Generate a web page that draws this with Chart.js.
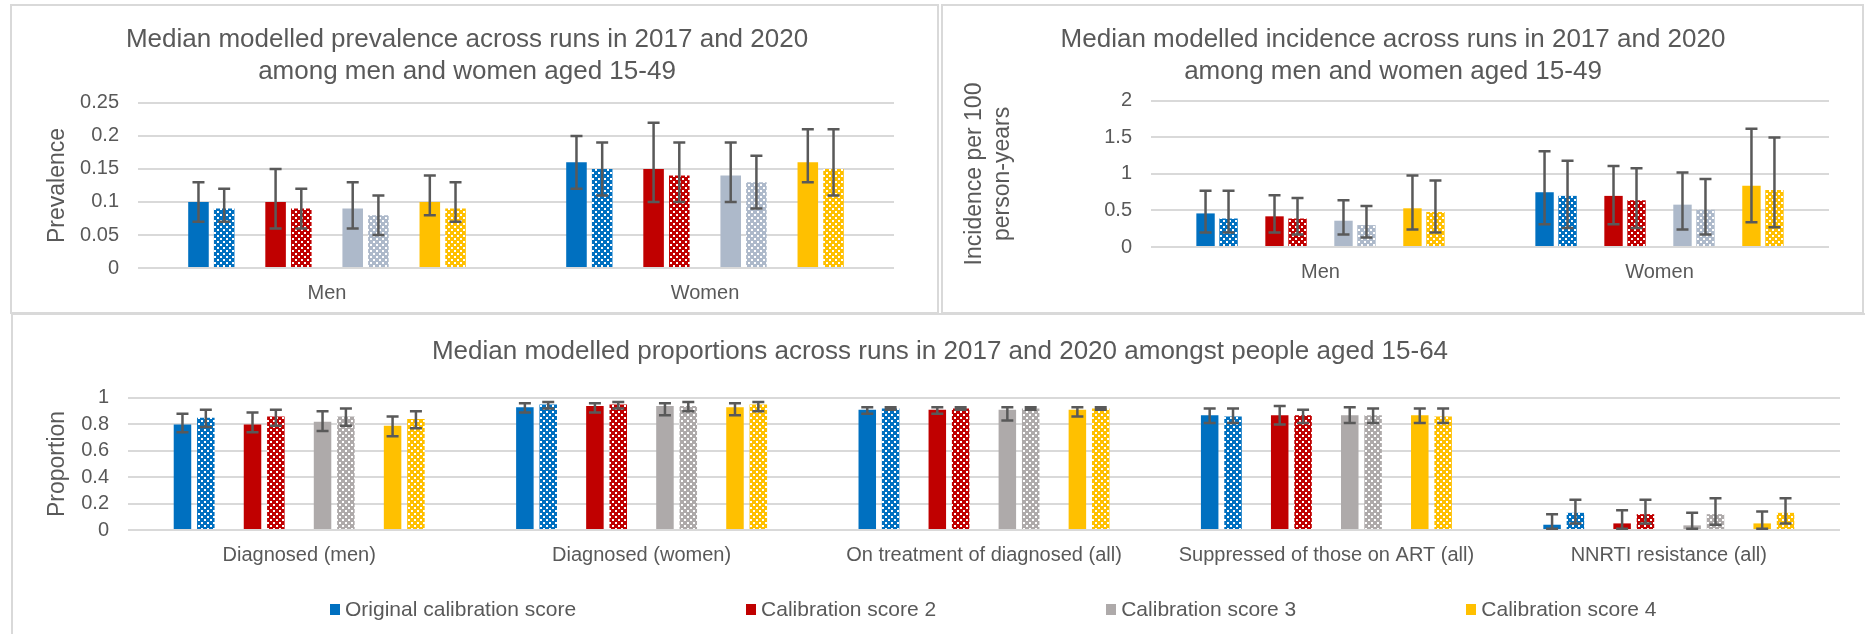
<!DOCTYPE html>
<html>
<head>
<meta charset="utf-8">
<script src="https://cdn.jsdelivr.net/npm/chart.js@4.4.0/dist/chart.umd.min.js"></script>
<style>
  body { margin: 0; background: #fff; width: 1865px; height: 634px; overflow: hidden; position: relative; font-family: 'Liberation Sans', Arial, sans-serif; }
  canvas { position: absolute; }
  .panel { position: absolute; border: 2px solid #d9d9d9; box-sizing: border-box; }
  #legend { position: absolute; left: 330px; top: 597px; display: flex; gap: 170px; font-size: 21px; color: #595959; }
  #legend span.box { display: inline-block; width: 10px; height: 11px; margin-right: 5px; vertical-align: middle; position: relative; top: -1px; }
</style>
</head>
<body>
<div class="panel" style="left:10px;top:4px;width:929px;height:310px"></div>
<div class="panel" style="left:941px;top:4px;width:923px;height:310px"></div>
<div class="panel" style="left:11px;top:313px;width:1900px;height:400px;border-right:none;border-bottom:none"></div>
<canvas id="prevChart" width="925" height="306" style="left:12px;top:6px"></canvas>
<canvas id="incChart" width="918" height="306" style="left:943px;top:6px"></canvas>
<canvas id="propChart" width="1851" height="317" style="left:14px;top:317px"></canvas>
<div id="legend"></div>
<script>
// ===== Data =====
const scoreNames = ['Original calibration score', 'Calibration score 2', 'Calibration score 3', 'Calibration score 4'];
const years = ['2017', '2020'];

// rows: Orig 2017, Orig 2020, CS2 2017, CS2 2020, CS3 2017, CS3 2020, CS4 2017, CS4 2020
const prevCats = ['Men', 'Women'];
const prevMedian = [[0.10, 0.16], [0.09, 0.15], [0.10, 0.15], [0.09, 0.14], [0.09, 0.14], [0.08, 0.13], [0.10, 0.16], [0.09, 0.15]];
const prevLow    = [[0.07, 0.12], [0.07, 0.11], [0.06, 0.10], [0.06, 0.10], [0.06, 0.10], [0.05, 0.09], [0.08, 0.13], [0.07, 0.11]];
const prevHigh   = [[0.13, 0.20], [0.12, 0.19], [0.15, 0.22], [0.12, 0.19], [0.13, 0.19], [0.11, 0.17], [0.14, 0.21], [0.13, 0.21]];

const incCats = ['Men', 'Women'];
const incMedian = [[0.46, 0.75], [0.39, 0.70], [0.42, 0.70], [0.39, 0.64], [0.36, 0.58], [0.30, 0.51], [0.53, 0.84], [0.48, 0.78]];
const incLow    = [[0.20, 0.31], [0.20, 0.26], [0.20, 0.31], [0.17, 0.26], [0.17, 0.24], [0.13, 0.17], [0.24, 0.34], [0.20, 0.27]];
const incHigh   = [[0.77, 1.31], [0.77, 1.18], [0.71, 1.11], [0.67, 1.08], [0.64, 1.02], [0.56, 0.93], [0.98, 1.62], [0.91, 1.50]];

const propCats = ['Diagnosed (men)', 'Diagnosed (women)', 'On treatment of diagnosed (all)', 'Suppressed of those on ART (all)', 'NNRTI resistance (all)'];
const propMedian = [
  [0.80, 0.93, 0.91, 0.87, 0.04], [0.85, 0.95, 0.92, 0.86, 0.13],
  [0.80, 0.94, 0.91, 0.87, 0.05], [0.86, 0.95, 0.92, 0.87, 0.12],
  [0.82, 0.94, 0.91, 0.87, 0.035], [0.86, 0.94, 0.92, 0.87, 0.12],
  [0.79, 0.93, 0.91, 0.87, 0.05], [0.84, 0.95, 0.92, 0.86, 0.13]
];
const propLow = [
  [0.74, 0.89, 0.88, 0.81, 0.01], [0.78, 0.92, 0.91, 0.81, 0.05],
  [0.74, 0.89, 0.88, 0.80, 0.01], [0.79, 0.92, 0.91, 0.81, 0.05],
  [0.75, 0.87, 0.83, 0.81, 0.01], [0.79, 0.90, 0.91, 0.81, 0.04],
  [0.71, 0.87, 0.86, 0.81, 0.01], [0.77, 0.90, 0.91, 0.81, 0.05]
];
const propHigh = [
  [0.88, 0.96, 0.93, 0.92, 0.12], [0.91, 0.97, 0.93, 0.92, 0.23],
  [0.89, 0.96, 0.93, 0.94, 0.15], [0.91, 0.97, 0.93, 0.91, 0.23],
  [0.90, 0.96, 0.93, 0.93, 0.13], [0.92, 0.97, 0.93, 0.92, 0.24],
  [0.86, 0.96, 0.93, 0.92, 0.14], [0.90, 0.97, 0.93, 0.92, 0.24]
];

const topColors = ['#0070C0', '#C00000', '#ADB9CA', '#FFC000'];
const bottomColors = ['#0070C0', '#C00000', '#AEAAAA', '#FFC000'];

Chart.defaults.font.family = "'Liberation Sans', Arial, sans-serif";
Chart.defaults.color = '#595959';

// white dot pattern for the 2020 bars
function dots(color) {
    const c = document.createElement('canvas');
    c.width = 6; c.height = 6;
    const g = c.getContext('2d');
    g.fillStyle = color;
    g.fillRect(0, 0, 6, 6);
    g.fillStyle = '#ffffff';
    g.fillRect(1, 1, 2, 2);
    g.fillRect(4, 4, 2, 2);
    return g.createPattern(c, 'repeat');
}

function buildSets(median, low, high, colors) {
    const sets = [];
    median.forEach((vals, i) => {
        const col = colors[i >> 1];
        sets.push({
            label: scoreNames[i >> 1] + ' ' + years[i % 2],
            data: vals, low: low[i], high: high[i],
            backgroundColor: i % 2 ? dots(col) : col,
            borderWidth: 0
        });
        // empty spacer between score pairs
        if (i % 2 === 1 && i < median.length - 1) sets.push({ label: '', data: [] });
    });
    return sets;
}

// ===== Error bars =====
const errorBars = {
    id: 'errorBars',
    afterDatasetsDraw(chart) {
        const ctx = chart.ctx;
        const y = chart.scales.y;
        ctx.save();
        ctx.strokeStyle = '#595959';
        ctx.lineWidth = 2.5;
        chart.data.datasets.forEach((ds, i) => {
            if (!ds.low) return;
            chart.getDatasetMeta(i).data.forEach((bar, j) => {
                const yl = y.getPixelForValue(ds.low[j]);
                const yh = y.getPixelForValue(ds.high[j]);
                ctx.beginPath();
                ctx.moveTo(bar.x, yl); ctx.lineTo(bar.x, yh);
                ctx.moveTo(bar.x - 6, yl); ctx.lineTo(bar.x + 6, yl);
                ctx.moveTo(bar.x - 6, yh); ctx.lineTo(bar.x + 6, yh);
                ctx.stroke();
            });
        });
        ctx.restore();
    }
};

function makeChart(id, cfg) {
    return new Chart(document.getElementById(id).getContext('2d'), {
        type: 'bar',
        data: { labels: cfg.labels, datasets: cfg.datasets },
        options: {
            responsive: false,
            animation: false,
            devicePixelRatio: 1,
            categoryPercentage: cfg.catPct,
            barPercentage: cfg.barPct,
            layout: { padding: cfg.padding },
            plugins: {
                legend: { display: false },
                tooltip: { enabled: false },
                title: {
                    display: true, text: cfg.title, color: '#595959',
                    font: { size: 26, weight: 'normal', lineHeight: 1.23 },
                    padding: cfg.titlePad
                }
            },
            scales: {
                x: {
                    grid: { display: false, drawTicks: false },
                    border: { display: false },
                    ticks: { font: { size: 20 }, padding: 13, color: '#595959' },
                    afterFit: s => { s.height = cfg.xHeight; }
                },
                y: {
                    min: 0, max: cfg.max,
                    ticks: {
                        stepSize: cfg.step, autoSkip: false, font: { size: 20 }, padding: 19, color: '#595959',
                        callback: v => String(Number(v.toFixed(2)))
                    },
                    grid: { color: '#d9d9d9', lineWidth: 2, drawTicks: false },
                    border: { display: false },
                    title: {
                        display: true, text: cfg.yTitle, color: '#595959',
                        font: { size: 23, lineHeight: 1.2 }, padding: { top: 4, bottom: 0 }
                    },
                    afterFit: s => { s.width = cfg.yWidth; }
                }
            }
        },
        plugins: [errorBars]
    });
}

makeChart('prevChart', {
    labels: prevCats,
    datasets: buildSets(prevMedian, prevLow, prevHigh, topColors),
    title: ['Median modelled prevalence across runs in 2017 and 2020', 'among men and women aged 15-49'],
    yTitle: 'Prevalence', max: 0.25, step: 0.05,
    padding: { left: 28, right: 43, top: 0, bottom: 0 },
    titlePad: { top: 18, bottom: 15 }, yWidth: 98, xHeight: 44,
    catPct: 0.748, barPct: 0.8
});

makeChart('incChart', {
    labels: incCats,
    datasets: buildSets(incMedian, incLow, incHigh, topColors),
    title: ['Median modelled incidence across runs in 2017 and 2020', 'among men and women aged 15-49'],
    yTitle: ['Incidence per 100', 'person-years'], max: 2, step: 0.5,
    padding: { left: 14, right: 32, top: 0, bottom: 15 },
    titlePad: { top: 18, bottom: 13 }, yWidth: 194, xHeight: 50,
    catPct: 0.746, barPct: 0.8
});

makeChart('propChart', {
    labels: propCats,
    datasets: buildSets(propMedian, propLow, propHigh, bottomColors),
    title: 'Median modelled proportions across runs in 2017 and 2020 amongst people aged 15-64',
    yTitle: 'Proportion', max: 1, step: 0.2,
    padding: { left: 26, right: 25, top: 0, bottom: 54 },
    titlePad: { top: 19, bottom: 30 }, yWidth: 88, xHeight: 50,
    catPct: 0.75, barPct: 0.75
});

// ===== Legend (solid 2017 series only) =====
const legend = document.getElementById('legend');
scoreNames.forEach((name, k) => {
    const item = document.createElement('div');
    item.innerHTML = `<span class="box" style="background:${bottomColors[k]}"></span>${name}`;
    legend.appendChild(item);
});
</script>
</body>
</html>
